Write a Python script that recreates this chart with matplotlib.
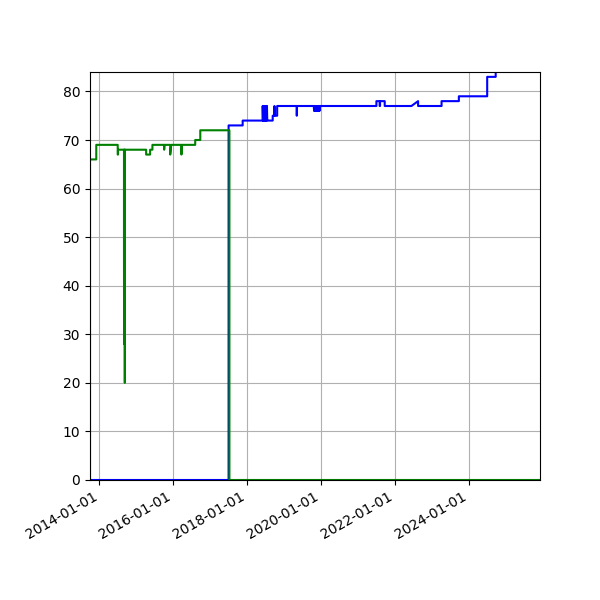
import matplotlib
matplotlib.use("Agg")
import matplotlib.pyplot as plt
import matplotlib.dates as mdates
import pandas as pd

# Green series (date, value); repeated dates give vertical jumps
green_dates = [
    "2013-09-30", "2013-09-30", "2013-12-01", "2013-12-01",
    "2014-07-01", "2014-07-01", "2014-07-04", "2014-07-04",
    "2014-09-01", "2014-09-01", "2014-09-02", "2014-09-02",
    "2014-09-09", "2014-09-09", "2014-09-10",
    "2015-04-08", "2015-04-08", "2015-05-17", "2015-05-17",
    "2015-06-09", "2015-06-09",
    "2015-10-03", "2015-10-03", "2015-10-06",
    "2015-12-02", "2015-12-02", "2015-12-12",
    "2016-03-22", "2016-03-22", "2016-03-25",
    "2016-08-05", "2016-08-05", "2016-09-24", "2016-09-24",
    "2017-07-09", "2017-07-09", "2025-12-04",
]
green_values = [
    0, 66, 66, 69,
    69, 67, 67, 68,
    68, 47, 28, 68,
    68, 20, 68,
    68, 67, 67, 68,
    68, 69,
    69, 68, 69,
    69, 67, 69,
    69, 67, 69,
    69, 70, 70, 72,
    72, 0, 0,
]

# Blue series
blue_dates = [
    "2013-09-30", "2017-07-01", "2017-07-01", "2017-11-17", "2017-11-17",
    "2018-06-03", "2018-06-03", "2018-06-06", "2018-06-09", "2018-06-12",
    "2018-06-15", "2018-06-18", "2018-06-21", "2018-06-24", "2018-06-27",
    "2018-06-30", "2018-07-03", "2018-07-06", "2018-07-09", "2018-07-12",
    "2018-07-15", "2018-07-18", "2018-07-22",
    "2018-09-10", "2018-09-10", "2018-09-27", "2018-09-27", "2018-09-28",
    "2018-10-24", "2018-10-24",
    "2019-05-06", "2019-05-06", "2019-05-07",
    "2019-10-21", "2019-10-24", "2019-10-27", "2019-10-30", "2019-11-02",
    "2019-11-05", "2019-11-08", "2019-11-11", "2019-11-14", "2019-11-17",
    "2019-11-20", "2019-11-23", "2019-11-26", "2019-11-29", "2019-12-02",
    "2019-12-05", "2019-12-08", "2019-12-11", "2019-12-14", "2019-12-17",
    "2019-12-20",
    "2021-07-01", "2021-07-01", "2021-08-02", "2021-08-02", "2021-08-06",
    "2021-08-06", "2021-09-21", "2021-09-21",
    "2022-06-12", "2022-08-17", "2022-08-17",
    "2023-04-06", "2023-04-06", "2023-09-24", "2023-09-24",
    "2024-06-30", "2024-06-30", "2024-09-22", "2024-09-22", "2025-12-04",
]
blue_values = [
    0, 0, 73, 73, 74,
    74, 77, 74, 77, 74,
    77, 74, 77, 74, 77,
    74, 77, 74, 77, 74,
    77, 74, 74,
    74, 75, 75, 77, 75,
    75, 77,
    77, 75, 77,
    77, 76, 77, 76, 77,
    76, 77, 76, 77, 76,
    77, 76, 77, 76, 77,
    76, 77, 76, 77, 76,
    77,
    77, 78, 78, 77, 77,
    78, 78, 77,
    77, 78, 77,
    77, 78, 78, 79,
    79, 83, 83, 86, 86,
]

x_min, x_max = "2013-09-30", "2025-12-04"
y_min, y_max = 0, 84

fig = plt.figure(figsize=(6, 6), dpi=100)
ax = fig.add_subplot(111)
ax.plot(pd.to_datetime(blue_dates), blue_values, color="b", linewidth=1.5)
ax.plot(pd.to_datetime(green_dates), green_values, color="g", linewidth=1.5)
ax.set_xlim(pd.Timestamp(x_min), pd.Timestamp(x_max))
ax.set_ylim(y_min, y_max)
ax.xaxis.set_major_locator(mdates.YearLocator(2))
ax.xaxis.set_major_formatter(mdates.DateFormatter("%Y-%m-%d"))
ax.grid(True)
fig.autofmt_xdate()
fig.subplots_adjust(left=0.15, right=0.9, top=0.88, bottom=0.2)
fig.savefig("out.png", dpi=100)
